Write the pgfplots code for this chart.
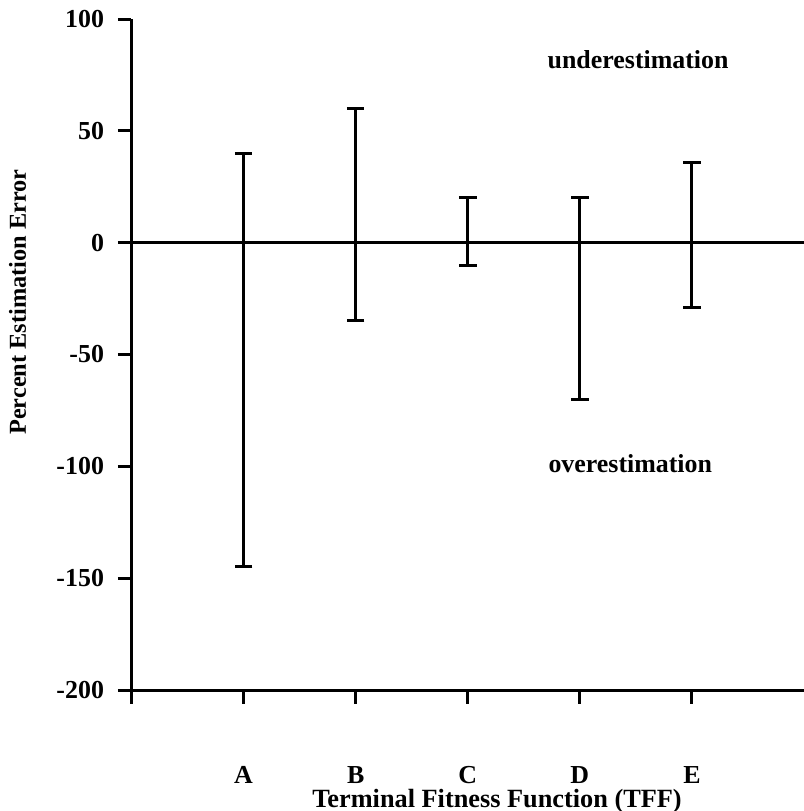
\documentclass[border=0pt]{standalone}
\usepackage{pgfplots}
\pgfplotsset{compat=1.18}
\usepackage{pgfplotstable}
\usepackage{fontspec}
\setmainfont{Liberation Serif}

\pgfplotstableread{
x  y  ep   em
1  0  40   145
2  0  60   35
3  0  20   10
4  0  20   70
5  0  36   29
}\errtable

\begin{document}
\begin{tikzpicture}
\useasboundingbox (-65.75bp,-60.5bp) rectangle (336.25bp,345bp);
\begin{axis}[
    at={(0,0)}, anchor=south west,
    scale only axis,
    width=336.25bp, height=335.5bp,
    xmin=0, xmax=6,
    ymin=-200, ymax=100,
    axis x line=bottom, axis y line=left,
    axis line style={-, line width=1.5bp},
    xtick={0,1,2,3,4,5},
    xticklabels={,A,B,C,D,E},
    ytick={-200,-150,-100,-50,0,50,100},
    tick align=outside,
    major tick length=6.75bp,
    tick style={line width=1.5bp, black},
    ticklabel style={font=\bfseries\fontsize{13}{15}\selectfont},
    /pgf/number format/assume math mode=true,
    xticklabel style={yshift=-40bp, anchor=base, inner sep=0pt},
    yticklabel style={xshift=-3.5bp},
    xlabel={Terminal Fitness Function (TFF)},
    ylabel={Percent Estimation Error},
    xlabel style={font=\bfseries\fontsize{13.2}{15}\selectfont, inner sep=0pt,
        at={(rel axis cs:0.5435,0)}, anchor=center, yshift=-55.5bp},
    ylabel style={font=\bfseries\fontsize{12.2}{14}\selectfont,
        at={(rel axis cs:-0.1695,0.578)}, anchor=center, rotate=0},
    clip=false,
]
% zero line
\addplot[black, line width=1.5bp, mark=none] coordinates {(0,0) (6,0)};
% error bars
\addplot[draw=none, mark=none,
    error bars/.cd, y dir=both, y explicit,
    error bar style={draw=black, line width=1.5bp},
    error mark options={draw=black, rotate=90, mark size=4.4bp, line width=1.5bp}]
    table[x=x, y=y, y error plus=ep, y error minus=em] {\errtable};
\node[font=\bfseries\fontsize{13}{15}\selectfont] at (axis cs:4.52,81.6) {underestimation};
\node[font=\bfseries\fontsize{13}{15}\selectfont] at (axis cs:4.45,-99) {overestimation};
\end{axis}
\end{tikzpicture}
\end{document}
